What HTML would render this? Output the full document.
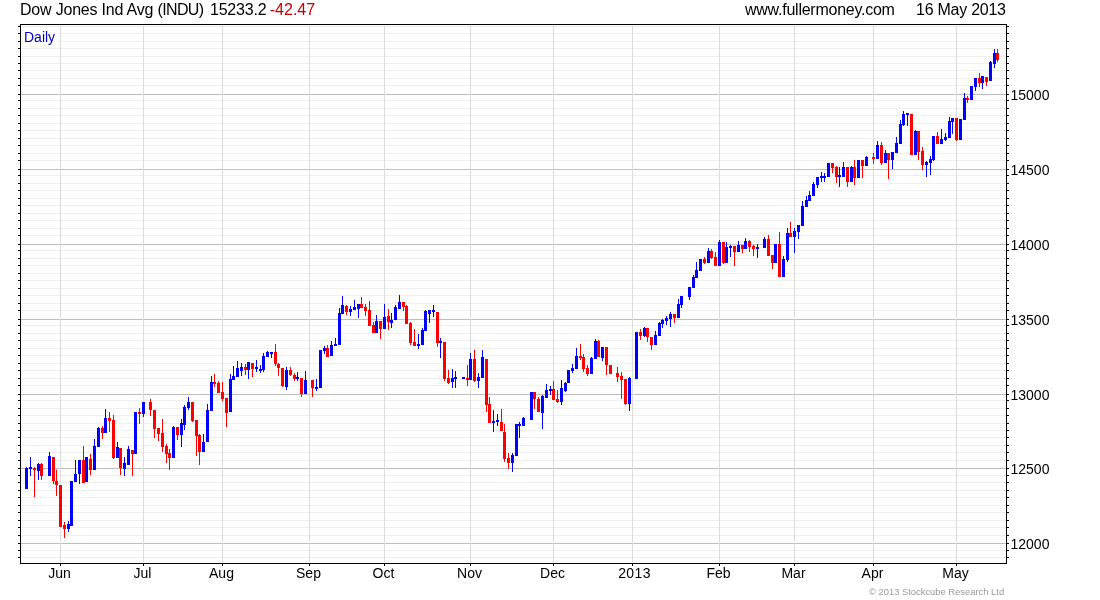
<!DOCTYPE html>
<html lang="en"><head><meta charset="utf-8"><title>Dow Jones Ind Avg (INDU)</title>
<style>
html,body{margin:0;padding:0;background:#fff;}
body{width:1100px;height:600px;overflow:hidden;position:relative;font-family:"Liberation Sans",Arial,sans-serif;color:#000;}
#chart{position:absolute;left:0;top:0;}
.t{position:absolute;white-space:pre;line-height:1;}
.title{font-size:16px;top:2px;letter-spacing:-0.25px;}
.ax{font-size:14px;}
.neg{color:#c00000;}
</style></head><body>
<svg id="chart" width="1100" height="600" viewBox="0 0 1100 600" shape-rendering="crispEdges">
<g fill="#efefef">
<rect x="21" y="557" width="985" height="1"/>
<rect x="21" y="550" width="985" height="1"/>
<rect x="21" y="535" width="985" height="1"/>
<rect x="21" y="527" width="985" height="1"/>
<rect x="21" y="520" width="985" height="1"/>
<rect x="21" y="512" width="985" height="1"/>
<rect x="21" y="505" width="985" height="1"/>
<rect x="21" y="497" width="985" height="1"/>
<rect x="21" y="490" width="985" height="1"/>
<rect x="21" y="482" width="985" height="1"/>
<rect x="21" y="475" width="985" height="1"/>
<rect x="21" y="460" width="985" height="1"/>
<rect x="21" y="452" width="985" height="1"/>
<rect x="21" y="445" width="985" height="1"/>
<rect x="21" y="437" width="985" height="1"/>
<rect x="21" y="430" width="985" height="1"/>
<rect x="21" y="423" width="985" height="1"/>
<rect x="21" y="415" width="985" height="1"/>
<rect x="21" y="408" width="985" height="1"/>
<rect x="21" y="400" width="985" height="1"/>
<rect x="21" y="385" width="985" height="1"/>
<rect x="21" y="378" width="985" height="1"/>
<rect x="21" y="370" width="985" height="1"/>
<rect x="21" y="363" width="985" height="1"/>
<rect x="21" y="355" width="985" height="1"/>
<rect x="21" y="348" width="985" height="1"/>
<rect x="21" y="340" width="985" height="1"/>
<rect x="21" y="333" width="985" height="1"/>
<rect x="21" y="325" width="985" height="1"/>
<rect x="21" y="310" width="985" height="1"/>
<rect x="21" y="303" width="985" height="1"/>
<rect x="21" y="295" width="985" height="1"/>
<rect x="21" y="288" width="985" height="1"/>
<rect x="21" y="280" width="985" height="1"/>
<rect x="21" y="273" width="985" height="1"/>
<rect x="21" y="265" width="985" height="1"/>
<rect x="21" y="258" width="985" height="1"/>
<rect x="21" y="250" width="985" height="1"/>
<rect x="21" y="235" width="985" height="1"/>
<rect x="21" y="228" width="985" height="1"/>
<rect x="21" y="220" width="985" height="1"/>
<rect x="21" y="213" width="985" height="1"/>
<rect x="21" y="205" width="985" height="1"/>
<rect x="21" y="198" width="985" height="1"/>
<rect x="21" y="190" width="985" height="1"/>
<rect x="21" y="183" width="985" height="1"/>
<rect x="21" y="175" width="985" height="1"/>
<rect x="21" y="160" width="985" height="1"/>
<rect x="21" y="153" width="985" height="1"/>
<rect x="21" y="145" width="985" height="1"/>
<rect x="21" y="138" width="985" height="1"/>
<rect x="21" y="130" width="985" height="1"/>
<rect x="21" y="123" width="985" height="1"/>
<rect x="21" y="115" width="985" height="1"/>
<rect x="21" y="108" width="985" height="1"/>
<rect x="21" y="100" width="985" height="1"/>
<rect x="21" y="85" width="985" height="1"/>
<rect x="21" y="78" width="985" height="1"/>
<rect x="21" y="70" width="985" height="1"/>
<rect x="21" y="63" width="985" height="1"/>
<rect x="21" y="56" width="985" height="1"/>
<rect x="21" y="48" width="985" height="1"/>
<rect x="21" y="41" width="985" height="1"/>
<rect x="21" y="33" width="985" height="1"/>
<rect x="21" y="26" width="985" height="1"/>
</g>
<g fill="#bdbdbd">
<rect x="21" y="543" width="985" height="1"/>
<rect x="21" y="468" width="985" height="1"/>
<rect x="21" y="394" width="985" height="1"/>
<rect x="21" y="319" width="985" height="1"/>
<rect x="21" y="244" width="985" height="1"/>
<rect x="21" y="169" width="985" height="1"/>
<rect x="21" y="94" width="985" height="1"/>
</g>
<g fill="#dcdcdc">
<rect x="60" y="25" width="1" height="538"/>
<rect x="143" y="25" width="1" height="538"/>
<rect x="222" y="25" width="1" height="538"/>
<rect x="309" y="25" width="1" height="538"/>
<rect x="384" y="25" width="1" height="538"/>
<rect x="470" y="25" width="1" height="538"/>
<rect x="553" y="25" width="1" height="538"/>
<rect x="632" y="25" width="1" height="538"/>
<rect x="719" y="25" width="1" height="538"/>
<rect x="794" y="25" width="1" height="538"/>
<rect x="873" y="25" width="1" height="538"/>
<rect x="956" y="25" width="1" height="538"/>
</g>
<rect x="21" y="27" width="37" height="20" fill="#fff"/>
<g fill="#0000ff">
<rect x="26" y="467" width="1" height="22"/>
<rect x="25" y="468" width="3" height="21"/>
<rect x="30" y="457" width="1" height="19"/>
<rect x="29" y="467" width="3" height="2"/>
<rect x="38" y="463" width="1" height="17"/>
<rect x="37" y="464" width="3" height="7"/>
<rect x="49" y="452" width="1" height="24"/>
<rect x="48" y="456" width="3" height="20"/>
<rect x="68" y="521" width="1" height="11"/>
<rect x="67" y="524" width="3" height="5"/>
<rect x="70" y="481" width="3" height="45"/>
<rect x="75" y="460" width="1" height="22"/>
<rect x="74" y="474" width="3" height="8"/>
<rect x="79" y="460" width="1" height="24"/>
<rect x="78" y="460" width="3" height="14"/>
<rect x="85" y="457" width="3" height="25"/>
<rect x="94" y="439" width="1" height="31"/>
<rect x="93" y="446" width="3" height="24"/>
<rect x="98" y="427" width="1" height="20"/>
<rect x="97" y="428" width="3" height="19"/>
<rect x="105" y="409" width="1" height="24"/>
<rect x="104" y="418" width="3" height="15"/>
<rect x="117" y="442" width="1" height="16"/>
<rect x="116" y="447" width="3" height="11"/>
<rect x="124" y="457" width="1" height="19"/>
<rect x="123" y="463" width="3" height="6"/>
<rect x="128" y="446" width="1" height="19"/>
<rect x="127" y="449" width="3" height="16"/>
<rect x="134" y="412" width="3" height="42"/>
<rect x="143" y="402" width="1" height="15"/>
<rect x="142" y="402" width="3" height="12"/>
<rect x="173" y="426" width="1" height="32"/>
<rect x="172" y="427" width="3" height="31"/>
<rect x="181" y="419" width="1" height="28"/>
<rect x="180" y="423" width="3" height="12"/>
<rect x="184" y="405" width="1" height="25"/>
<rect x="183" y="407" width="3" height="18"/>
<rect x="188" y="397" width="1" height="13"/>
<rect x="187" y="402" width="3" height="6"/>
<rect x="203" y="434" width="1" height="18"/>
<rect x="202" y="442" width="3" height="10"/>
<rect x="207" y="404" width="1" height="38"/>
<rect x="206" y="410" width="3" height="32"/>
<rect x="211" y="376" width="1" height="35"/>
<rect x="210" y="382" width="3" height="29"/>
<rect x="230" y="374" width="1" height="38"/>
<rect x="229" y="379" width="3" height="33"/>
<rect x="233" y="366" width="1" height="14"/>
<rect x="232" y="376" width="3" height="4"/>
<rect x="237" y="361" width="1" height="16"/>
<rect x="236" y="368" width="3" height="9"/>
<rect x="241" y="363" width="1" height="13"/>
<rect x="240" y="367" width="3" height="4"/>
<rect x="248" y="362" width="1" height="17"/>
<rect x="247" y="362" width="3" height="8"/>
<rect x="256" y="360" width="1" height="12"/>
<rect x="255" y="367" width="3" height="2"/>
<rect x="260" y="365" width="1" height="8"/>
<rect x="259" y="369" width="3" height="2"/>
<rect x="263" y="353" width="1" height="19"/>
<rect x="262" y="356" width="3" height="14"/>
<rect x="267" y="351" width="1" height="6"/>
<rect x="266" y="352" width="3" height="5"/>
<rect x="271" y="352" width="1" height="6"/>
<rect x="270" y="352" width="3" height="2"/>
<rect x="286" y="367" width="1" height="23"/>
<rect x="285" y="370" width="3" height="17"/>
<rect x="297" y="372" width="1" height="9"/>
<rect x="296" y="377" width="3" height="2"/>
<rect x="305" y="371" width="1" height="23"/>
<rect x="304" y="380" width="3" height="14"/>
<rect x="316" y="379" width="1" height="12"/>
<rect x="315" y="387" width="3" height="2"/>
<rect x="319" y="350" width="3" height="38"/>
<rect x="324" y="346" width="1" height="8"/>
<rect x="323" y="348" width="3" height="3"/>
<rect x="331" y="341" width="1" height="15"/>
<rect x="330" y="345" width="3" height="11"/>
<rect x="335" y="338" width="1" height="8"/>
<rect x="334" y="344" width="3" height="2"/>
<rect x="339" y="308" width="1" height="37"/>
<rect x="338" y="313" width="3" height="32"/>
<rect x="342" y="296" width="1" height="18"/>
<rect x="341" y="305" width="3" height="9"/>
<rect x="350" y="306" width="1" height="10"/>
<rect x="349" y="309" width="3" height="3"/>
<rect x="354" y="300" width="1" height="10"/>
<rect x="353" y="307" width="3" height="3"/>
<rect x="358" y="304" width="1" height="14"/>
<rect x="357" y="304" width="3" height="5"/>
<rect x="376" y="315" width="1" height="18"/>
<rect x="375" y="321" width="3" height="12"/>
<rect x="384" y="304" width="1" height="25"/>
<rect x="383" y="317" width="3" height="12"/>
<rect x="391" y="313" width="1" height="15"/>
<rect x="390" y="320" width="3" height="3"/>
<rect x="395" y="305" width="1" height="15"/>
<rect x="394" y="307" width="3" height="13"/>
<rect x="399" y="295" width="1" height="14"/>
<rect x="398" y="302" width="3" height="7"/>
<rect x="418" y="334" width="1" height="15"/>
<rect x="417" y="344" width="3" height="2"/>
<rect x="422" y="328" width="1" height="17"/>
<rect x="421" y="330" width="3" height="15"/>
<rect x="425" y="310" width="1" height="21"/>
<rect x="424" y="311" width="3" height="20"/>
<rect x="429" y="310" width="1" height="13"/>
<rect x="428" y="310" width="3" height="4"/>
<rect x="433" y="305" width="1" height="12"/>
<rect x="432" y="310" width="3" height="2"/>
<rect x="440" y="338" width="1" height="20"/>
<rect x="439" y="341" width="3" height="2"/>
<rect x="452" y="369" width="1" height="19"/>
<rect x="451" y="378" width="3" height="4"/>
<rect x="455" y="371" width="1" height="17"/>
<rect x="454" y="377" width="3" height="2"/>
<rect x="462" y="377" width="3" height="2"/>
<rect x="470" y="353" width="1" height="27"/>
<rect x="469" y="359" width="3" height="21"/>
<rect x="478" y="373" width="1" height="15"/>
<rect x="477" y="377" width="3" height="4"/>
<rect x="482" y="350" width="1" height="28"/>
<rect x="481" y="357" width="3" height="21"/>
<rect x="493" y="410" width="1" height="22"/>
<rect x="492" y="421" width="3" height="2"/>
<rect x="497" y="414" width="1" height="12"/>
<rect x="496" y="420" width="3" height="2"/>
<rect x="512" y="453" width="1" height="19"/>
<rect x="511" y="455" width="3" height="8"/>
<rect x="515" y="424" width="3" height="32"/>
<rect x="519" y="422" width="1" height="16"/>
<rect x="518" y="424" width="3" height="2"/>
<rect x="523" y="417" width="1" height="9"/>
<rect x="522" y="418" width="3" height="8"/>
<rect x="530" y="392" width="3" height="28"/>
<rect x="542" y="395" width="1" height="34"/>
<rect x="541" y="396" width="3" height="17"/>
<rect x="546" y="384" width="1" height="14"/>
<rect x="545" y="390" width="3" height="8"/>
<rect x="550" y="386" width="1" height="9"/>
<rect x="549" y="389" width="3" height="2"/>
<rect x="561" y="380" width="1" height="25"/>
<rect x="560" y="388" width="3" height="14"/>
<rect x="565" y="382" width="1" height="10"/>
<rect x="564" y="383" width="3" height="8"/>
<rect x="567" y="370" width="3" height="13"/>
<rect x="572" y="364" width="1" height="9"/>
<rect x="571" y="368" width="3" height="3"/>
<rect x="576" y="348" width="1" height="21"/>
<rect x="575" y="356" width="3" height="13"/>
<rect x="591" y="357" width="1" height="17"/>
<rect x="590" y="358" width="3" height="16"/>
<rect x="595" y="339" width="1" height="20"/>
<rect x="594" y="341" width="3" height="18"/>
<rect x="602" y="347" width="1" height="14"/>
<rect x="601" y="347" width="3" height="11"/>
<rect x="629" y="377" width="1" height="34"/>
<rect x="628" y="378" width="3" height="26"/>
<rect x="635" y="332" width="3" height="47"/>
<rect x="644" y="327" width="1" height="10"/>
<rect x="643" y="328" width="3" height="8"/>
<rect x="655" y="331" width="1" height="14"/>
<rect x="654" y="335" width="3" height="10"/>
<rect x="659" y="322" width="1" height="14"/>
<rect x="658" y="323" width="3" height="13"/>
<rect x="662" y="319" width="1" height="9"/>
<rect x="661" y="320" width="3" height="4"/>
<rect x="666" y="316" width="1" height="9"/>
<rect x="665" y="318" width="3" height="3"/>
<rect x="670" y="312" width="1" height="15"/>
<rect x="669" y="314" width="3" height="5"/>
<rect x="678" y="299" width="1" height="19"/>
<rect x="677" y="304" width="3" height="14"/>
<rect x="681" y="296" width="1" height="12"/>
<rect x="680" y="296" width="3" height="9"/>
<rect x="689" y="287" width="1" height="13"/>
<rect x="688" y="287" width="3" height="10"/>
<rect x="693" y="275" width="1" height="13"/>
<rect x="692" y="277" width="3" height="11"/>
<rect x="696" y="262" width="1" height="16"/>
<rect x="695" y="270" width="3" height="8"/>
<rect x="699" y="259" width="3" height="12"/>
<rect x="708" y="248" width="1" height="15"/>
<rect x="707" y="251" width="3" height="12"/>
<rect x="719" y="240" width="1" height="26"/>
<rect x="718" y="242" width="3" height="24"/>
<rect x="726" y="242" width="1" height="21"/>
<rect x="725" y="247" width="3" height="16"/>
<rect x="730" y="245" width="1" height="12"/>
<rect x="729" y="246" width="3" height="2"/>
<rect x="738" y="241" width="1" height="11"/>
<rect x="737" y="245" width="3" height="7"/>
<rect x="745" y="238" width="1" height="11"/>
<rect x="744" y="241" width="3" height="8"/>
<rect x="757" y="244" width="1" height="14"/>
<rect x="756" y="247" width="3" height="2"/>
<rect x="764" y="237" width="1" height="11"/>
<rect x="763" y="239" width="3" height="9"/>
<rect x="774" y="244" width="3" height="19"/>
<rect x="783" y="256" width="1" height="21"/>
<rect x="782" y="259" width="3" height="18"/>
<rect x="787" y="228" width="1" height="34"/>
<rect x="786" y="233" width="3" height="27"/>
<rect x="794" y="228" width="1" height="25"/>
<rect x="793" y="231" width="3" height="6"/>
<rect x="798" y="225" width="1" height="14"/>
<rect x="797" y="225" width="3" height="7"/>
<rect x="802" y="201" width="1" height="25"/>
<rect x="801" y="206" width="3" height="20"/>
<rect x="806" y="196" width="1" height="11"/>
<rect x="805" y="200" width="3" height="7"/>
<rect x="809" y="191" width="1" height="10"/>
<rect x="808" y="195" width="3" height="6"/>
<rect x="813" y="182" width="1" height="14"/>
<rect x="812" y="184" width="3" height="12"/>
<rect x="817" y="177" width="1" height="11"/>
<rect x="816" y="177" width="3" height="8"/>
<rect x="821" y="172" width="1" height="10"/>
<rect x="820" y="176" width="3" height="2"/>
<rect x="824" y="173" width="1" height="9"/>
<rect x="823" y="176" width="3" height="2"/>
<rect x="827" y="163" width="3" height="14"/>
<rect x="839" y="167" width="1" height="20"/>
<rect x="838" y="175" width="3" height="2"/>
<rect x="843" y="162" width="1" height="15"/>
<rect x="842" y="167" width="3" height="10"/>
<rect x="851" y="166" width="1" height="16"/>
<rect x="850" y="167" width="3" height="15"/>
<rect x="857" y="160" width="3" height="18"/>
<rect x="866" y="156" width="1" height="10"/>
<rect x="865" y="157" width="3" height="9"/>
<rect x="877" y="141" width="1" height="18"/>
<rect x="876" y="145" width="3" height="14"/>
<rect x="885" y="150" width="1" height="13"/>
<rect x="884" y="153" width="3" height="10"/>
<rect x="892" y="152" width="1" height="17"/>
<rect x="891" y="152" width="3" height="8"/>
<rect x="896" y="137" width="1" height="16"/>
<rect x="895" y="143" width="3" height="10"/>
<rect x="900" y="120" width="1" height="24"/>
<rect x="899" y="124" width="3" height="20"/>
<rect x="903" y="111" width="1" height="15"/>
<rect x="902" y="114" width="3" height="11"/>
<rect x="907" y="113" width="1" height="13"/>
<rect x="906" y="113" width="3" height="2"/>
<rect x="915" y="130" width="1" height="25"/>
<rect x="914" y="131" width="3" height="24"/>
<rect x="926" y="161" width="1" height="16"/>
<rect x="925" y="162" width="3" height="3"/>
<rect x="930" y="156" width="1" height="19"/>
<rect x="929" y="159" width="3" height="4"/>
<rect x="933" y="136" width="1" height="25"/>
<rect x="932" y="136" width="3" height="24"/>
<rect x="941" y="129" width="1" height="15"/>
<rect x="940" y="139" width="3" height="5"/>
<rect x="945" y="133" width="1" height="8"/>
<rect x="944" y="137" width="3" height="3"/>
<rect x="949" y="117" width="1" height="21"/>
<rect x="948" y="121" width="3" height="17"/>
<rect x="952" y="118" width="1" height="16"/>
<rect x="951" y="118" width="3" height="4"/>
<rect x="959" y="119" width="3" height="21"/>
<rect x="964" y="93" width="1" height="27"/>
<rect x="963" y="98" width="3" height="22"/>
<rect x="970" y="86" width="3" height="14"/>
<rect x="975" y="78" width="1" height="13"/>
<rect x="974" y="78" width="3" height="9"/>
<rect x="982" y="76" width="1" height="13"/>
<rect x="981" y="76" width="3" height="7"/>
<rect x="990" y="61" width="1" height="20"/>
<rect x="989" y="62" width="3" height="19"/>
<rect x="994" y="49" width="1" height="19"/>
<rect x="993" y="53" width="3" height="11"/>
</g>
<g fill="#ff0000">
<rect x="34" y="467" width="1" height="30"/>
<rect x="33" y="468" width="3" height="2"/>
<rect x="41" y="463" width="1" height="17"/>
<rect x="40" y="464" width="3" height="12"/>
<rect x="53" y="457" width="1" height="27"/>
<rect x="52" y="457" width="3" height="24"/>
<rect x="56" y="470" width="1" height="26"/>
<rect x="55" y="481" width="3" height="4"/>
<rect x="59" y="485" width="3" height="42"/>
<rect x="64" y="522" width="1" height="16"/>
<rect x="63" y="525" width="3" height="4"/>
<rect x="83" y="446" width="1" height="37"/>
<rect x="82" y="460" width="3" height="23"/>
<rect x="90" y="454" width="1" height="21"/>
<rect x="89" y="459" width="3" height="11"/>
<rect x="102" y="426" width="1" height="13"/>
<rect x="101" y="428" width="3" height="5"/>
<rect x="109" y="412" width="1" height="20"/>
<rect x="108" y="418" width="3" height="3"/>
<rect x="113" y="415" width="1" height="44"/>
<rect x="112" y="420" width="3" height="38"/>
<rect x="120" y="448" width="1" height="27"/>
<rect x="119" y="448" width="3" height="20"/>
<rect x="132" y="450" width="1" height="26"/>
<rect x="131" y="450" width="3" height="4"/>
<rect x="139" y="408" width="1" height="16"/>
<rect x="138" y="412" width="3" height="2"/>
<rect x="150" y="399" width="1" height="17"/>
<rect x="149" y="402" width="3" height="8"/>
<rect x="154" y="410" width="1" height="28"/>
<rect x="153" y="410" width="3" height="19"/>
<rect x="158" y="428" width="1" height="13"/>
<rect x="157" y="428" width="3" height="6"/>
<rect x="162" y="419" width="1" height="33"/>
<rect x="161" y="433" width="3" height="14"/>
<rect x="166" y="444" width="1" height="19"/>
<rect x="165" y="446" width="3" height="8"/>
<rect x="169" y="449" width="1" height="21"/>
<rect x="168" y="453" width="3" height="5"/>
<rect x="177" y="427" width="1" height="13"/>
<rect x="176" y="427" width="3" height="8"/>
<rect x="192" y="402" width="1" height="20"/>
<rect x="191" y="402" width="3" height="19"/>
<rect x="196" y="420" width="1" height="36"/>
<rect x="195" y="420" width="3" height="16"/>
<rect x="199" y="434" width="1" height="31"/>
<rect x="198" y="435" width="3" height="17"/>
<rect x="214" y="374" width="1" height="13"/>
<rect x="213" y="382" width="3" height="2"/>
<rect x="218" y="381" width="1" height="12"/>
<rect x="217" y="383" width="3" height="10"/>
<rect x="222" y="382" width="1" height="19"/>
<rect x="221" y="392" width="3" height="7"/>
<rect x="226" y="398" width="1" height="29"/>
<rect x="225" y="398" width="3" height="15"/>
<rect x="245" y="364" width="1" height="11"/>
<rect x="244" y="367" width="3" height="3"/>
<rect x="252" y="363" width="1" height="14"/>
<rect x="251" y="363" width="3" height="6"/>
<rect x="275" y="344" width="1" height="22"/>
<rect x="274" y="352" width="3" height="12"/>
<rect x="278" y="363" width="1" height="13"/>
<rect x="277" y="364" width="3" height="4"/>
<rect x="282" y="368" width="1" height="19"/>
<rect x="281" y="368" width="3" height="18"/>
<rect x="290" y="367" width="1" height="9"/>
<rect x="289" y="370" width="3" height="5"/>
<rect x="294" y="373" width="1" height="8"/>
<rect x="293" y="375" width="3" height="4"/>
<rect x="301" y="378" width="1" height="19"/>
<rect x="300" y="378" width="3" height="16"/>
<rect x="312" y="380" width="1" height="17"/>
<rect x="311" y="380" width="3" height="8"/>
<rect x="327" y="345" width="1" height="12"/>
<rect x="326" y="348" width="3" height="9"/>
<rect x="346" y="305" width="1" height="10"/>
<rect x="345" y="306" width="3" height="6"/>
<rect x="361" y="297" width="1" height="11"/>
<rect x="360" y="304" width="3" height="4"/>
<rect x="365" y="304" width="1" height="12"/>
<rect x="364" y="307" width="3" height="4"/>
<rect x="369" y="301" width="1" height="25"/>
<rect x="368" y="310" width="3" height="16"/>
<rect x="373" y="322" width="1" height="11"/>
<rect x="372" y="325" width="3" height="8"/>
<rect x="380" y="321" width="1" height="18"/>
<rect x="379" y="321" width="3" height="8"/>
<rect x="388" y="309" width="1" height="21"/>
<rect x="387" y="316" width="3" height="6"/>
<rect x="403" y="302" width="1" height="9"/>
<rect x="402" y="302" width="3" height="5"/>
<rect x="406" y="305" width="1" height="19"/>
<rect x="405" y="306" width="3" height="18"/>
<rect x="410" y="322" width="1" height="23"/>
<rect x="409" y="323" width="3" height="20"/>
<rect x="414" y="329" width="1" height="17"/>
<rect x="413" y="342" width="3" height="4"/>
<rect x="437" y="312" width="1" height="35"/>
<rect x="436" y="312" width="3" height="31"/>
<rect x="444" y="342" width="1" height="39"/>
<rect x="443" y="342" width="3" height="37"/>
<rect x="448" y="370" width="1" height="14"/>
<rect x="447" y="378" width="3" height="5"/>
<rect x="467" y="365" width="1" height="21"/>
<rect x="466" y="378" width="3" height="2"/>
<rect x="474" y="350" width="1" height="32"/>
<rect x="473" y="359" width="3" height="22"/>
<rect x="486" y="359" width="1" height="53"/>
<rect x="485" y="359" width="3" height="46"/>
<rect x="489" y="397" width="1" height="26"/>
<rect x="488" y="404" width="3" height="19"/>
<rect x="501" y="409" width="1" height="22"/>
<rect x="500" y="422" width="3" height="9"/>
<rect x="504" y="424" width="1" height="38"/>
<rect x="503" y="432" width="3" height="27"/>
<rect x="508" y="453" width="1" height="16"/>
<rect x="507" y="458" width="3" height="5"/>
<rect x="534" y="392" width="1" height="17"/>
<rect x="533" y="392" width="3" height="7"/>
<rect x="538" y="397" width="1" height="15"/>
<rect x="537" y="399" width="3" height="13"/>
<rect x="553" y="381" width="1" height="19"/>
<rect x="552" y="389" width="3" height="11"/>
<rect x="557" y="390" width="1" height="13"/>
<rect x="556" y="399" width="3" height="3"/>
<rect x="580" y="344" width="1" height="16"/>
<rect x="579" y="356" width="3" height="2"/>
<rect x="583" y="354" width="1" height="18"/>
<rect x="582" y="357" width="3" height="12"/>
<rect x="587" y="365" width="1" height="11"/>
<rect x="586" y="368" width="3" height="6"/>
<rect x="598" y="340" width="1" height="17"/>
<rect x="597" y="341" width="3" height="16"/>
<rect x="606" y="347" width="1" height="28"/>
<rect x="605" y="347" width="3" height="18"/>
<rect x="609" y="365" width="3" height="9"/>
<rect x="617" y="367" width="1" height="15"/>
<rect x="616" y="373" width="3" height="4"/>
<rect x="621" y="372" width="1" height="27"/>
<rect x="620" y="376" width="3" height="4"/>
<rect x="625" y="379" width="1" height="26"/>
<rect x="624" y="379" width="3" height="25"/>
<rect x="640" y="329" width="1" height="11"/>
<rect x="639" y="332" width="3" height="4"/>
<rect x="647" y="328" width="1" height="14"/>
<rect x="646" y="328" width="3" height="9"/>
<rect x="651" y="337" width="1" height="13"/>
<rect x="650" y="337" width="3" height="8"/>
<rect x="674" y="314" width="1" height="9"/>
<rect x="673" y="314" width="3" height="4"/>
<rect x="704" y="257" width="1" height="7"/>
<rect x="703" y="259" width="3" height="4"/>
<rect x="711" y="249" width="1" height="10"/>
<rect x="710" y="251" width="3" height="7"/>
<rect x="715" y="252" width="1" height="14"/>
<rect x="714" y="257" width="3" height="9"/>
<rect x="723" y="242" width="1" height="22"/>
<rect x="722" y="242" width="3" height="21"/>
<rect x="734" y="246" width="1" height="20"/>
<rect x="733" y="246" width="3" height="6"/>
<rect x="742" y="245" width="1" height="8"/>
<rect x="741" y="245" width="3" height="4"/>
<rect x="749" y="240" width="1" height="12"/>
<rect x="748" y="241" width="3" height="6"/>
<rect x="753" y="245" width="1" height="11"/>
<rect x="752" y="246" width="3" height="3"/>
<rect x="768" y="235" width="1" height="21"/>
<rect x="767" y="239" width="3" height="17"/>
<rect x="772" y="255" width="1" height="14"/>
<rect x="771" y="255" width="3" height="8"/>
<rect x="779" y="232" width="1" height="45"/>
<rect x="778" y="244" width="3" height="33"/>
<rect x="790" y="222" width="1" height="15"/>
<rect x="789" y="233" width="3" height="4"/>
<rect x="832" y="163" width="1" height="10"/>
<rect x="831" y="163" width="3" height="5"/>
<rect x="836" y="166" width="1" height="17"/>
<rect x="835" y="167" width="3" height="10"/>
<rect x="847" y="167" width="1" height="20"/>
<rect x="846" y="167" width="3" height="15"/>
<rect x="854" y="160" width="1" height="25"/>
<rect x="853" y="167" width="3" height="11"/>
<rect x="862" y="160" width="1" height="18"/>
<rect x="861" y="160" width="3" height="6"/>
<rect x="873" y="153" width="1" height="11"/>
<rect x="872" y="157" width="3" height="2"/>
<rect x="881" y="142" width="1" height="23"/>
<rect x="880" y="145" width="3" height="18"/>
<rect x="888" y="153" width="1" height="26"/>
<rect x="887" y="153" width="3" height="7"/>
<rect x="910" y="114" width="3" height="41"/>
<rect x="918" y="131" width="1" height="29"/>
<rect x="917" y="131" width="3" height="21"/>
<rect x="922" y="147" width="1" height="23"/>
<rect x="921" y="151" width="3" height="14"/>
<rect x="937" y="132" width="1" height="12"/>
<rect x="936" y="136" width="3" height="8"/>
<rect x="956" y="118" width="1" height="23"/>
<rect x="955" y="118" width="3" height="22"/>
<rect x="967" y="96" width="1" height="7"/>
<rect x="966" y="98" width="3" height="2"/>
<rect x="979" y="73" width="1" height="14"/>
<rect x="978" y="78" width="3" height="5"/>
<rect x="986" y="77" width="1" height="9"/>
<rect x="985" y="77" width="3" height="5"/>
<rect x="997" y="49" width="1" height="13"/>
<rect x="996" y="53" width="3" height="7"/>
</g>
<g fill="#000">
<rect x="18" y="557" width="2" height="1"/><rect x="1007" y="557" width="2" height="1"/>
<rect x="18" y="550" width="2" height="1"/><rect x="1007" y="550" width="2" height="1"/>
<rect x="18" y="543" width="2" height="1"/><rect x="1007" y="543" width="2" height="1"/>
<rect x="18" y="535" width="2" height="1"/><rect x="1007" y="535" width="2" height="1"/>
<rect x="18" y="527" width="2" height="1"/><rect x="1007" y="527" width="2" height="1"/>
<rect x="18" y="520" width="2" height="1"/><rect x="1007" y="520" width="2" height="1"/>
<rect x="18" y="512" width="2" height="1"/><rect x="1007" y="512" width="2" height="1"/>
<rect x="18" y="505" width="2" height="1"/><rect x="1007" y="505" width="2" height="1"/>
<rect x="18" y="497" width="2" height="1"/><rect x="1007" y="497" width="2" height="1"/>
<rect x="18" y="490" width="2" height="1"/><rect x="1007" y="490" width="2" height="1"/>
<rect x="18" y="482" width="2" height="1"/><rect x="1007" y="482" width="2" height="1"/>
<rect x="18" y="475" width="2" height="1"/><rect x="1007" y="475" width="2" height="1"/>
<rect x="18" y="468" width="2" height="1"/><rect x="1007" y="468" width="2" height="1"/>
<rect x="18" y="460" width="2" height="1"/><rect x="1007" y="460" width="2" height="1"/>
<rect x="18" y="452" width="2" height="1"/><rect x="1007" y="452" width="2" height="1"/>
<rect x="18" y="445" width="2" height="1"/><rect x="1007" y="445" width="2" height="1"/>
<rect x="18" y="437" width="2" height="1"/><rect x="1007" y="437" width="2" height="1"/>
<rect x="18" y="430" width="2" height="1"/><rect x="1007" y="430" width="2" height="1"/>
<rect x="18" y="423" width="2" height="1"/><rect x="1007" y="423" width="2" height="1"/>
<rect x="18" y="415" width="2" height="1"/><rect x="1007" y="415" width="2" height="1"/>
<rect x="18" y="408" width="2" height="1"/><rect x="1007" y="408" width="2" height="1"/>
<rect x="18" y="400" width="2" height="1"/><rect x="1007" y="400" width="2" height="1"/>
<rect x="18" y="394" width="2" height="1"/><rect x="1007" y="394" width="2" height="1"/>
<rect x="18" y="385" width="2" height="1"/><rect x="1007" y="385" width="2" height="1"/>
<rect x="18" y="378" width="2" height="1"/><rect x="1007" y="378" width="2" height="1"/>
<rect x="18" y="370" width="2" height="1"/><rect x="1007" y="370" width="2" height="1"/>
<rect x="18" y="363" width="2" height="1"/><rect x="1007" y="363" width="2" height="1"/>
<rect x="18" y="355" width="2" height="1"/><rect x="1007" y="355" width="2" height="1"/>
<rect x="18" y="348" width="2" height="1"/><rect x="1007" y="348" width="2" height="1"/>
<rect x="18" y="340" width="2" height="1"/><rect x="1007" y="340" width="2" height="1"/>
<rect x="18" y="333" width="2" height="1"/><rect x="1007" y="333" width="2" height="1"/>
<rect x="18" y="325" width="2" height="1"/><rect x="1007" y="325" width="2" height="1"/>
<rect x="18" y="319" width="2" height="1"/><rect x="1007" y="319" width="2" height="1"/>
<rect x="18" y="310" width="2" height="1"/><rect x="1007" y="310" width="2" height="1"/>
<rect x="18" y="303" width="2" height="1"/><rect x="1007" y="303" width="2" height="1"/>
<rect x="18" y="295" width="2" height="1"/><rect x="1007" y="295" width="2" height="1"/>
<rect x="18" y="288" width="2" height="1"/><rect x="1007" y="288" width="2" height="1"/>
<rect x="18" y="280" width="2" height="1"/><rect x="1007" y="280" width="2" height="1"/>
<rect x="18" y="273" width="2" height="1"/><rect x="1007" y="273" width="2" height="1"/>
<rect x="18" y="265" width="2" height="1"/><rect x="1007" y="265" width="2" height="1"/>
<rect x="18" y="258" width="2" height="1"/><rect x="1007" y="258" width="2" height="1"/>
<rect x="18" y="250" width="2" height="1"/><rect x="1007" y="250" width="2" height="1"/>
<rect x="18" y="244" width="2" height="1"/><rect x="1007" y="244" width="2" height="1"/>
<rect x="18" y="235" width="2" height="1"/><rect x="1007" y="235" width="2" height="1"/>
<rect x="18" y="228" width="2" height="1"/><rect x="1007" y="228" width="2" height="1"/>
<rect x="18" y="220" width="2" height="1"/><rect x="1007" y="220" width="2" height="1"/>
<rect x="18" y="213" width="2" height="1"/><rect x="1007" y="213" width="2" height="1"/>
<rect x="18" y="205" width="2" height="1"/><rect x="1007" y="205" width="2" height="1"/>
<rect x="18" y="198" width="2" height="1"/><rect x="1007" y="198" width="2" height="1"/>
<rect x="18" y="190" width="2" height="1"/><rect x="1007" y="190" width="2" height="1"/>
<rect x="18" y="183" width="2" height="1"/><rect x="1007" y="183" width="2" height="1"/>
<rect x="18" y="175" width="2" height="1"/><rect x="1007" y="175" width="2" height="1"/>
<rect x="18" y="169" width="2" height="1"/><rect x="1007" y="169" width="2" height="1"/>
<rect x="18" y="160" width="2" height="1"/><rect x="1007" y="160" width="2" height="1"/>
<rect x="18" y="153" width="2" height="1"/><rect x="1007" y="153" width="2" height="1"/>
<rect x="18" y="145" width="2" height="1"/><rect x="1007" y="145" width="2" height="1"/>
<rect x="18" y="138" width="2" height="1"/><rect x="1007" y="138" width="2" height="1"/>
<rect x="18" y="130" width="2" height="1"/><rect x="1007" y="130" width="2" height="1"/>
<rect x="18" y="123" width="2" height="1"/><rect x="1007" y="123" width="2" height="1"/>
<rect x="18" y="115" width="2" height="1"/><rect x="1007" y="115" width="2" height="1"/>
<rect x="18" y="108" width="2" height="1"/><rect x="1007" y="108" width="2" height="1"/>
<rect x="18" y="100" width="2" height="1"/><rect x="1007" y="100" width="2" height="1"/>
<rect x="18" y="94" width="2" height="1"/><rect x="1007" y="94" width="2" height="1"/>
<rect x="18" y="85" width="2" height="1"/><rect x="1007" y="85" width="2" height="1"/>
<rect x="18" y="78" width="2" height="1"/><rect x="1007" y="78" width="2" height="1"/>
<rect x="18" y="70" width="2" height="1"/><rect x="1007" y="70" width="2" height="1"/>
<rect x="18" y="63" width="2" height="1"/><rect x="1007" y="63" width="2" height="1"/>
<rect x="18" y="56" width="2" height="1"/><rect x="1007" y="56" width="2" height="1"/>
<rect x="18" y="48" width="2" height="1"/><rect x="1007" y="48" width="2" height="1"/>
<rect x="18" y="41" width="2" height="1"/><rect x="1007" y="41" width="2" height="1"/>
<rect x="18" y="33" width="2" height="1"/><rect x="1007" y="33" width="2" height="1"/>
<rect x="18" y="26" width="2" height="1"/><rect x="1007" y="26" width="2" height="1"/>
<rect x="60" y="564" width="1" height="2"/>
<rect x="143" y="564" width="1" height="2"/>
<rect x="222" y="564" width="1" height="2"/>
<rect x="309" y="564" width="1" height="2"/>
<rect x="384" y="564" width="1" height="2"/>
<rect x="470" y="564" width="1" height="2"/>
<rect x="553" y="564" width="1" height="2"/>
<rect x="632" y="564" width="1" height="2"/>
<rect x="719" y="564" width="1" height="2"/>
<rect x="794" y="564" width="1" height="2"/>
<rect x="873" y="564" width="1" height="2"/>
<rect x="956" y="564" width="1" height="2"/>
<rect x="20" y="24" width="987" height="1"/><rect x="20" y="563" width="987" height="1"/>
<rect x="20" y="24" width="1" height="540"/><rect x="1006" y="24" width="1" height="540"/>
</g>
</svg>
<div class="t title" style="left:20px;letter-spacing:-0.2px">Dow Jones Ind Avg <span style="letter-spacing:-0.65px">(INDU)</span><span style="margin-left:2.3px"> 15233.2</span> <span class="neg" style="margin-left:-0.9px;letter-spacing:0px">-42.47</span></div>
<div class="t title" style="left:745px">www.fullermoney.com</div>
<div class="t title" style="left:916px">16 May 2013</div>
<div class="t ax" style="left:24px;top:30px;color:#0000cc">Daily</div>
<div class="t ax" style="left:1010.5px;top:537px">12000</div>
<div class="t ax" style="left:1010.5px;top:462px">12500</div>
<div class="t ax" style="left:1010.5px;top:388px">13000</div>
<div class="t ax" style="left:1010.5px;top:313px">13500</div>
<div class="t ax" style="left:1010.5px;top:238px">14000</div>
<div class="t ax" style="left:1010.5px;top:163px">14500</div>
<div class="t ax" style="left:1010.5px;top:88px">15000</div>
<div class="t ax" style="left:29px;width:61px;text-align:center;top:566px">Jun</div>
<div class="t ax" style="left:112px;width:61px;text-align:center;top:566px">Jul</div>
<div class="t ax" style="left:191px;width:61px;text-align:center;top:566px">Aug</div>
<div class="t ax" style="left:278px;width:61px;text-align:center;top:566px">Sep</div>
<div class="t ax" style="left:353px;width:61px;text-align:center;top:566px">Oct</div>
<div class="t ax" style="left:439px;width:61px;text-align:center;top:566px">Nov</div>
<div class="t ax" style="left:522px;width:61px;text-align:center;top:566px">Dec</div>
<div class="t ax" style="left:601px;width:61px;text-align:center;top:566px;letter-spacing:0.4px;margin-left:3px">2013</div>
<div class="t ax" style="left:688px;width:61px;text-align:center;top:566px">Feb</div>
<div class="t ax" style="left:763px;width:61px;text-align:center;top:566px">Mar</div>
<div class="t ax" style="left:842px;width:61px;text-align:center;top:566px">Apr</div>
<div class="t ax" style="left:925px;width:61px;text-align:center;top:566px">May</div>
<div class="t" style="left:869px;top:587px;font-size:9.4px;color:#999">© 2013 Stockcube Research Ltd</div>
</body></html>
